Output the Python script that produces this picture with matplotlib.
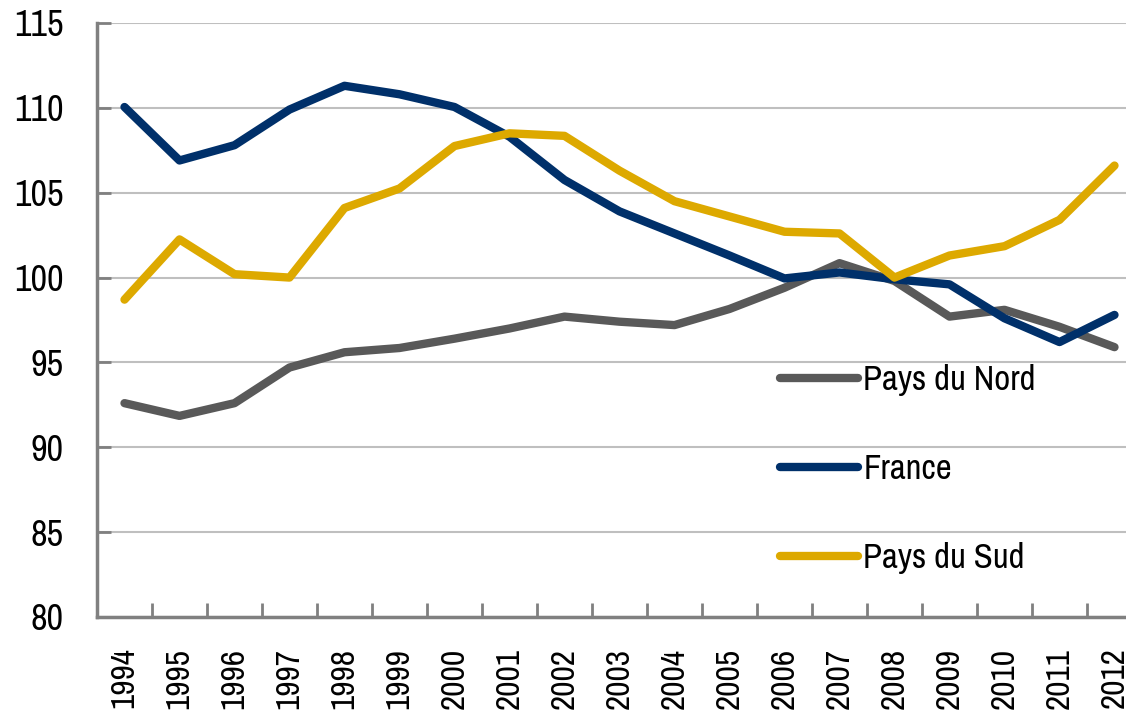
import matplotlib
matplotlib.use("Agg")
import matplotlib.pyplot as plt
import numpy as np

years = ["1994", "1995", "1996", "1997", "1998", "1999", "2000", "2001", "2002", "2003",
         "2004", "2005", "2006", "2007", "2008", "2009", "2010", "2011", "2012"]
nord = [92.6, 91.85, 92.6, 94.7, 95.6, 95.85, 96.4, 97.0, 97.7, 97.4,
        97.2, 98.15, 99.4, 100.85, 99.8, 97.7, 98.1, 97.1, 95.9]
france = [110.05, 106.9, 107.8, 109.9, 111.3, 110.8, 110.05, 108.3, 105.75, 103.9,
          102.6, 101.3, 99.95, 100.3, 99.9, 99.6, 97.6, 96.2, 97.8]
sud = [98.7, 102.25, 100.2, 100.0, 104.1, 105.25, 107.75, 108.5, 108.35, 106.3,
       104.5, 103.6, 102.7, 102.6, 100.0, 101.3, 101.85, 103.4, 106.6]
series_names = ["Pays du Nord", "France", "Pays du Sud"]
colors = ["#595959", "#00306A", "#DDA900"]

plt.rcParams['font.family'] = ['Archivo Narrow', 'Liberation Sans', 'DejaVu Sans']

W, H = 1126, 710
fig = plt.figure(figsize=(W / 100, H / 100), dpi=100)
left, right, top, bottom = 97, 1142, 23, 617
ax = fig.add_axes([left / W, 1 - bottom / H, (right - left) / W, (bottom - top) / H])

x = np.arange(len(years))
for vals, name, c in zip([nord, france, sud], series_names, colors):
    ax.plot(x, vals, color=c, lw=6, label=name, solid_capstyle='round', solid_joinstyle='round')

ax.set_xlim(-0.5, len(years) - 0.5)
ax.set_ylim(80, 115)
ax.set_yticks(np.arange(80, 116, 5))
ax.yaxis.grid(True, color="#BFBFBF", lw=1.5)
ax.set_axisbelow(True)

ax.set_xticks(x)
ax.set_xticklabels(years, rotation=90, fontsize=24)
ax.set_xticks(np.arange(-0.5, len(years), 1), minor=True)
ax.tick_params(axis='x', which='major', length=0, pad=22)
ax.tick_params(axis='x', which='minor', length=10, width=2, color="#808080", direction='in')
ax.tick_params(axis='y', length=10, width=2, color="#808080", direction='in', labelsize=26, pad=24)

for s in ['top', 'right']:
    ax.spines[s].set_visible(False)
for s in ['left', 'bottom']:
    ax.spines[s].set_color("#808080")
    ax.spines[s].set_linewidth(2.5)

leg = ax.legend(loc='center left', bbox_to_anchor=(780 / W, 1 - 469 / H), bbox_transform=fig.transFigure,
                frameon=False, fontsize=25, handlelength=2.25, handletextpad=0.15,
                labelspacing=1.65, borderpad=0, borderaxespad=0)

fig.savefig("out.png", dpi=100)
